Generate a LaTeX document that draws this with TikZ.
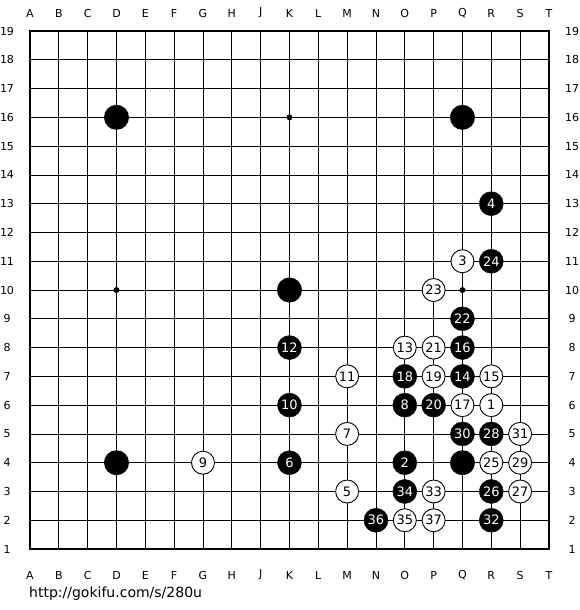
\documentclass[tikz,border=0pt]{standalone}
\usepackage{fontspec}
\setmainfont{DejaVu Sans}
\begin{document}
\begin{tikzpicture}[x=1pt,y=-1pt,
  lbl/.style={font=\fontsize{11}{12}\selectfont, inner sep=0pt},
  wstone/.style={circle, draw=black, line width=0.9pt, fill=white, minimum size=23pt, inner sep=0pt, font=\fontsize{13}{14}\selectfont},
  bstone/.style={circle, draw=black, fill=black, minimum size=24pt, inner sep=0pt, text=white, font=\fontsize{13}{14}\selectfont},
  bigstone/.style={circle, fill=black, minimum size=25pt, inner sep=0pt},
  hoshi/.style={circle, fill=black, minimum size=6pt, inner sep=0pt}]
\useasboundingbox (0,0) rectangle (580,610);
\fill[white] (0,0) rectangle (580,610);
\def\gx{28.83}
\def\gy{28.78}
% grid
\foreach \i in {1,...,17} {
  \draw[line width=0.8pt] ({30+\i*\gx},31) -- ({30+\i*\gx},549);
  \draw[line width=0.8pt] (30,{31+\i*\gy}) -- (549,{31+\i*\gy});
}
\draw[line width=1.8pt] (30,31) rectangle (549,549);
% labels
\foreach \l [count=\c from 0] in {A,B,C,D,E,F,G,H,J,K,L,M,N,O,P,Q,R,S,T} {
  \node[lbl] (top\l) at ({30+\c*\gx},13) {\l};
  \node[lbl] (bot\l) at ({30+\c*\gx},575) {\l};
}
\foreach \r in {1,...,19} {
  \node[lbl] (left\r) at (7,{31+(19-\r)*\gy}) {\r};
  \node[lbl] (right\r) at (572,{31+(19-\r)*\gy}) {\r};
}
\node[anchor=west, inner sep=0pt, font=\fontsize{14}{16}\selectfont] (url) at (29,594) {http://gokifu.com/s/280u};
% hoshi
\node[hoshi] (hK16) at ({30+9*\gx},{31+3*\gy}) {};
\node[hoshi] (hD10) at ({30+3*\gx},{31+9*\gy}) {};
\node[hoshi] (hQ10) at ({30+15*\gx},{31+9*\gy}) {};
% unnumbered stones
\foreach \c/\r/\n in {3/16/D16, 15/16/Q16, 9/10/K10, 3/4/D4, 15/4/Q4} {
  \node[bigstone] (s\n) at ({30+\c*\gx},{31+(19-\r)*\gy}) {};
}
% numbered white stones
\foreach \c/\r/\n in {16/6/1, 15/11/3, 11/3/5, 11/5/7, 6/4/9, 11/7/11, 13/8/13, 16/7/15, 15/6/17, 14/7/19, 14/8/21, 14/10/23, 16/4/25, 17/3/27, 17/4/29, 17/5/31, 14/3/33, 13/2/35, 14/2/37} {
  \node[wstone] (m\n) at ({30+\c*\gx},{31+(19-\r)*\gy}) {\n};
}
% numbered black stones
\foreach \c/\r/\n in {13/4/2, 16/13/4, 9/4/6, 13/6/8, 9/6/10, 9/8/12, 15/7/14, 15/8/16, 13/7/18, 14/6/20, 15/9/22, 16/11/24, 16/3/26, 16/5/28, 15/5/30, 16/2/32, 13/3/34, 12/2/36} {
  \node[bstone] (m\n) at ({30+\c*\gx},{31+(19-\r)*\gy}) {\n};
}
\end{tikzpicture}
\end{document}
